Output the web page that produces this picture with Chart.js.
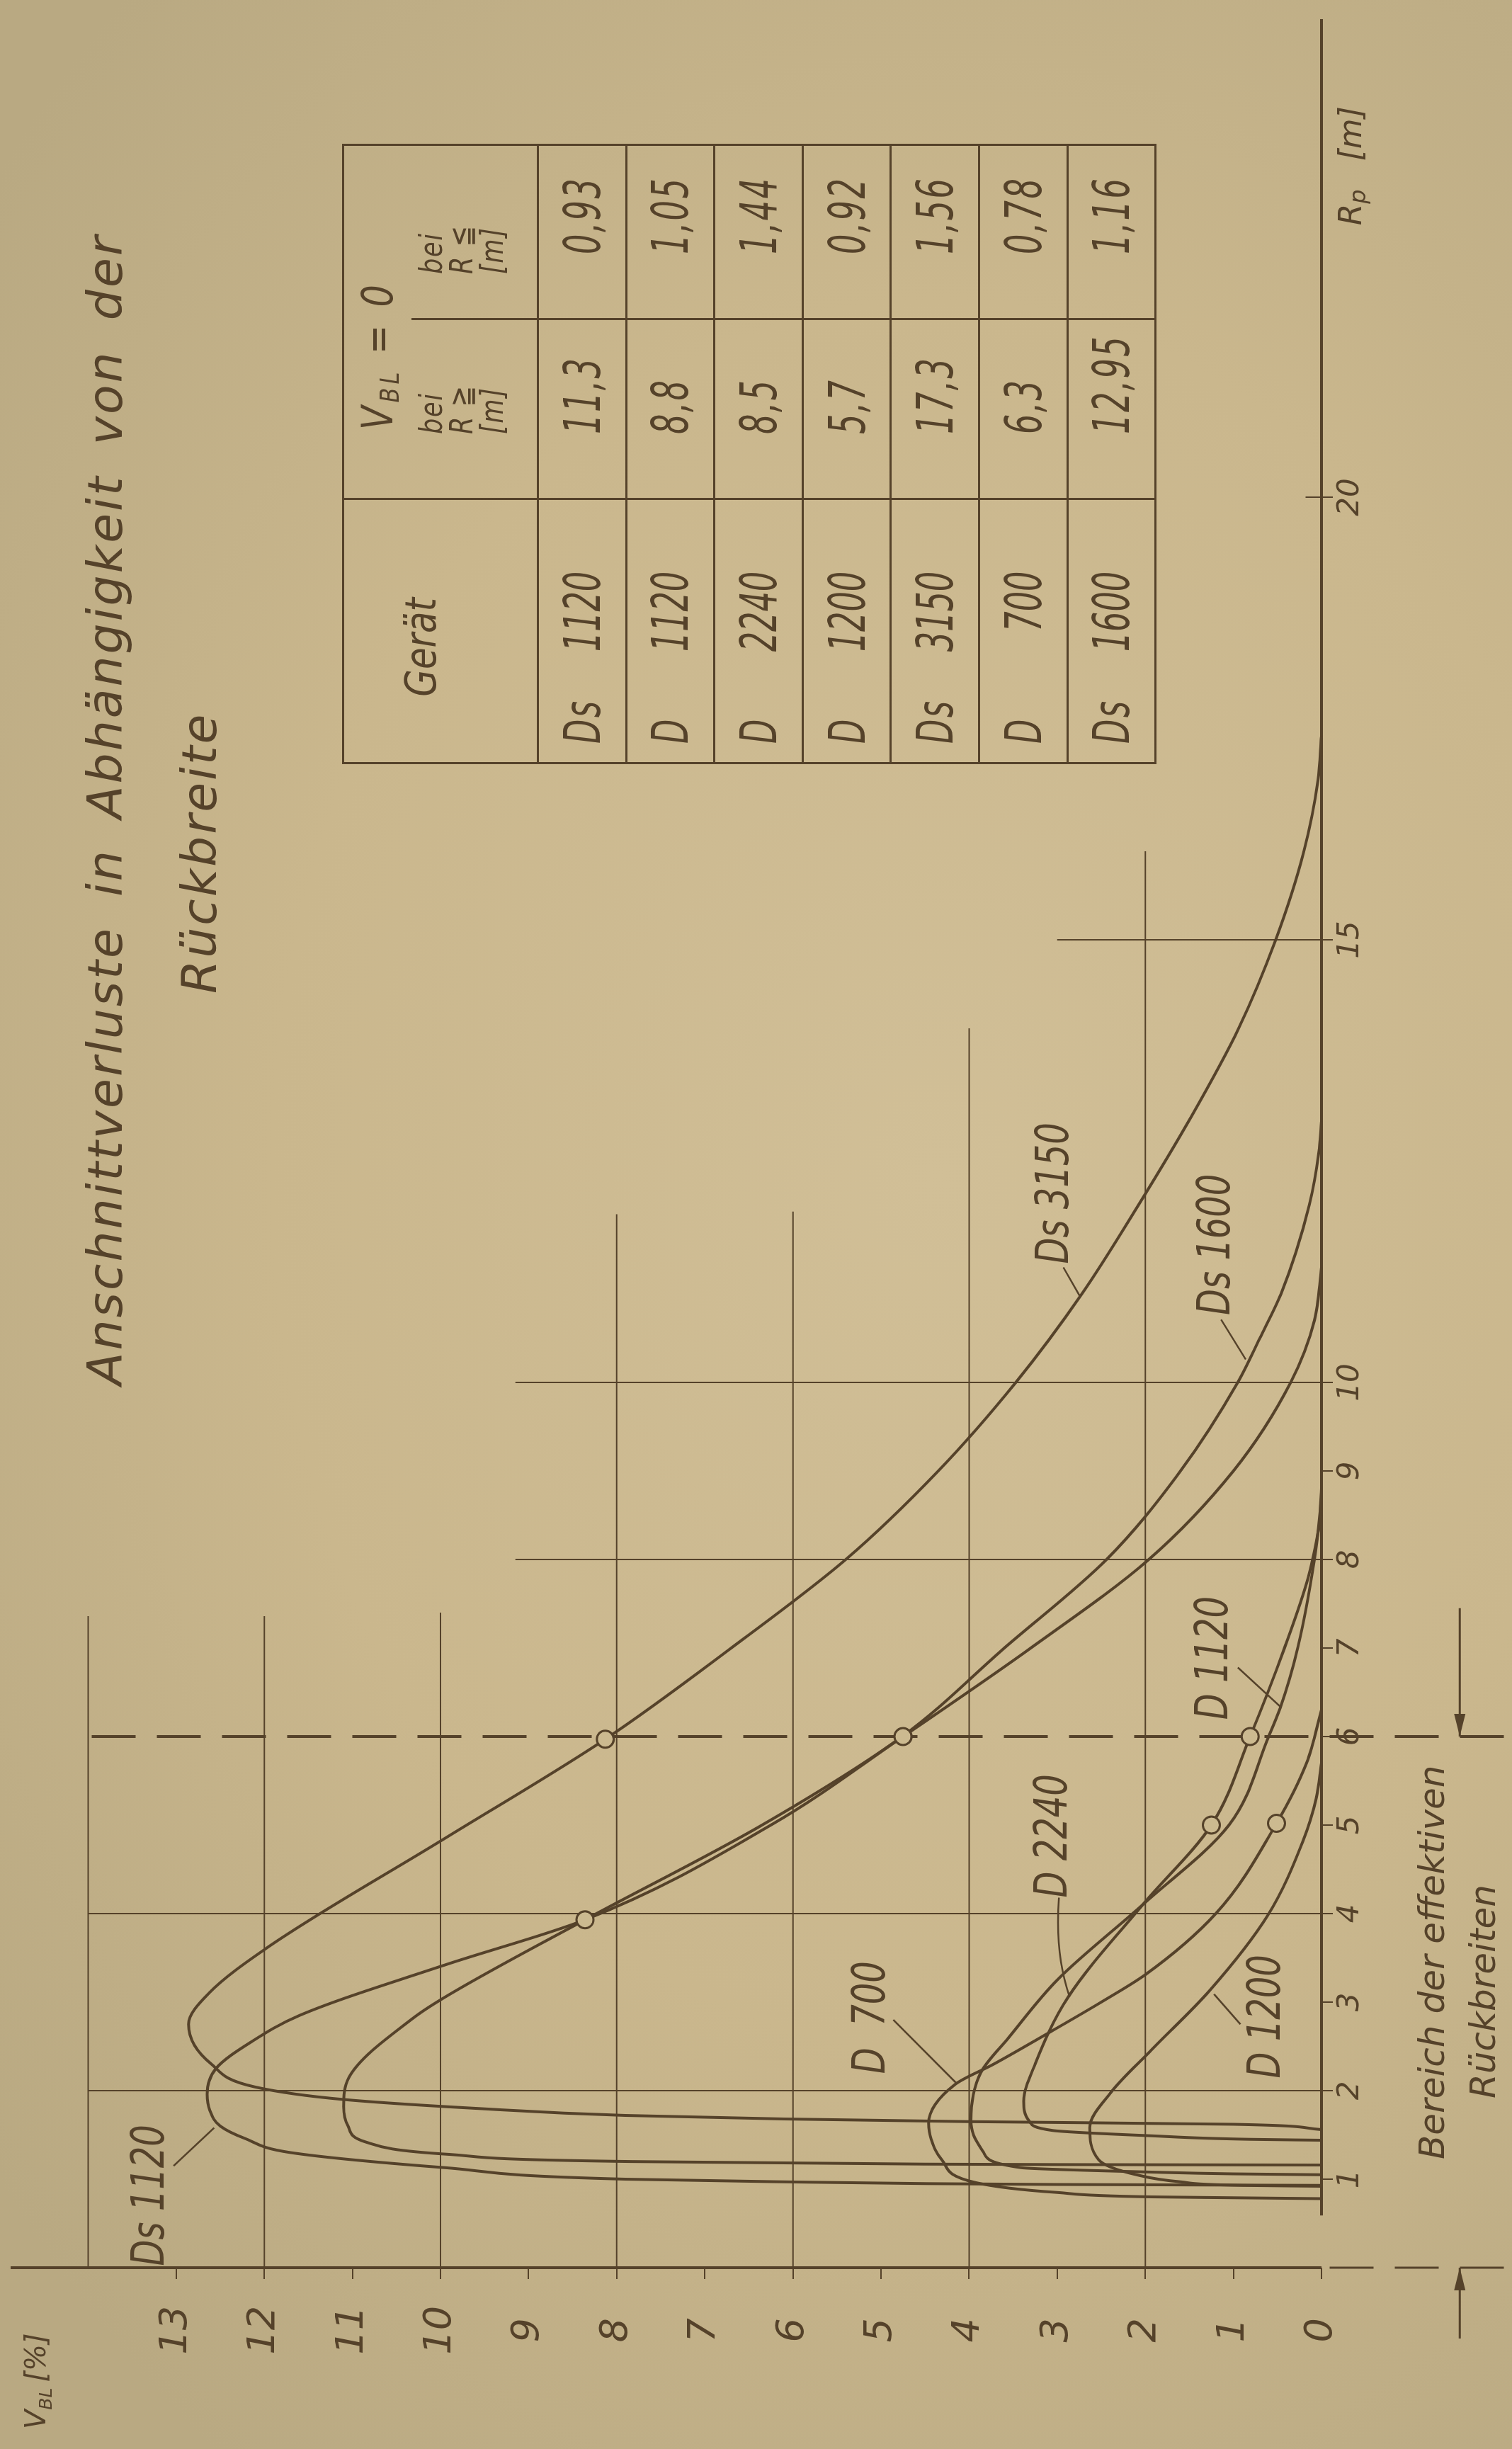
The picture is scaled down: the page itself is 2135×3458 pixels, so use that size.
<!DOCTYPE html>
<html>
<head>
<meta charset="utf-8">
<script src="https://cdn.jsdelivr.net/npm/chart.js"></script>
<style>
html,body{margin:0;padding:0;}
body{width:2135px;height:3458px;overflow:hidden;position:relative;
  background:radial-gradient(ellipse 80% 65% at 62% 48%, #d1bf97 0%, #cab78d 55%, #b9a982 100%);
  font-family:'DejaVu Sans',sans-serif;font-style:italic;color:#55422a;}
#sheet{position:absolute;left:0;top:0;width:3458px;height:2135px;transform-origin:0 0;
  transform:translate(0,3458px) rotate(-90deg);}
#chart{position:absolute;left:0;top:0;}
.title{position:absolute;white-space:pre;font-size:68px;line-height:68px;letter-spacing:3px;}
#tbl{position:absolute;left:2379px;top:483px;width:873px;border-collapse:collapse;table-layout:fixed;}
#tbl td{border:3px solid #55422a;padding:0;font-size:72px;line-height:72px;white-space:pre;}
#tbl td.hdr{text-align:center;vertical-align:top;padding-top:72px;padding-right:46px;font-size:60px;}
#tbl td.vbl{border-bottom:none;vertical-align:middle;padding-left:96px;font-size:60px;}
#tbl td.sub{border-top:none;vertical-align:top;padding-top:6px;font-size:44px;line-height:43px;}
#tbl td.sub1{padding-left:90px;}
#tbl td.sub2{padding-left:62px;}
#tbl td.dev{padding-left:26px;vertical-align:middle;}
#tbl td.val{padding-left:90px;vertical-align:middle;}
.cx{display:inline-block;transform:scaleX(0.62);transform-origin:left center;letter-spacing:4px;}
.cx.r{transform-origin:right center;letter-spacing:0;word-spacing:0;}
.cx.c{transform-origin:center center;transform:scaleX(0.83);letter-spacing:0;}
.cx.h{transform:scaleX(0.82);letter-spacing:6px;}
.cx.s{transform:scaleX(0.8);letter-spacing:2px;}
.pre{display:inline-block;width:33px;}
.num{display:inline-block;width:210px;text-align:right;}
sub{font-size:62%;vertical-align:-0.25em;line-height:0;}
</style>
</head>
<body>
<div id="sheet">
  <canvas id="chart" width="3458" height="2135"></canvas>
  <div class="title" id="t1" style="left:1502px;top:115px;">Anschnittverluste in Abhängigkeit von der</div>
  <div class="title" id="t2" style="left:2055px;top:248px;">Rückbreite</div>
  <table id="tbl"></table>
</div>
<script>
// ---------------- data ----------------
const rpTicks  = [1, 2, 3, 4, 5, 6, 7, 8, 9, 10, 15, 20];
const vblTicks = [0, 1, 2, 3, 4, 5, 6, 7, 8, 9, 10, 11, 12, 13];

const devices   = ['Ds 1120', 'D 1120', 'D 2240', 'D 1200', 'Ds 3150', 'D 700', 'Ds 1600'];
const rMaxZero  = [11.3, 8.8, 8.5, 5.7, 17.3, 6.3, 12.95];   // V_BL = 0 bei R >=
const rMinZero  = [0.93, 1.05, 1.44, 0.92, 1.56, 0.78, 1.16]; // V_BL = 0 bei R <=

const ds1120Rp = [0.93, 0.94, 0.95, 0.97, 1.00, 1.13, 1.30, 1.46, 1.60, 1.78, 1.96, 2.25, 2.55, 2.85, 3.42, 3.93, 5.00, 6.00, 7.00, 8.00, 9.00, 10.0, 10.7, 11.3];
const ds1120V  = [0, 3.0, 4.5, 6.1, 7.9, 9.95, 11.7, 12.22, 12.5, 12.62, 12.65, 12.55, 12.15, 11.6, 9.95, 8.36, 6.25, 4.75, 3.3, 1.96, 1.0, 0.35, 0.08, 0];

const ds1600Rp = [1.16, 1.165, 1.17, 1.20, 1.28, 1.42, 1.60, 1.82, 2.15, 2.82, 3.05, 3.93, 5.00, 6.00, 7.00, 8.00, 9.00, 10.0, 10.5, 11.0, 12.0, 12.6, 12.95];
const ds1600V  = [0, 3.0, 4.5, 7.9, 9.9, 10.85, 11.05, 11.1, 11.04, 10.31, 9.96, 8.36, 6.35, 4.76, 3.6, 2.44, 1.6, 0.95, 0.7, 0.46, 0.14, 0.03, 0];

const ds3150Rp = [1.56, 1.62, 1.65, 1.68, 1.72, 1.80, 1.90, 2.04, 2.30, 2.75, 3.10, 3.62, 4.85, 5.97, 7.00, 8.00, 9.00, 10.0, 11.0, 12.0, 13.0, 14.0, 15.0, 16.0, 16.8, 17.3];
const ds3150V  = [0, 1.0, 4.0, 6.1, 7.9, 9.6, 11.1, 12.1, 12.6, 12.86, 12.63, 11.96, 9.95, 8.13, 6.7, 5.4, 4.35, 3.47, 2.72, 2.08, 1.48, 0.94, 0.52, 0.2, 0.04, 0];

const d700Rp  = [0.78, 0.79, 0.80, 0.85, 0.96, 1.22, 1.45, 1.63, 2.07, 2.30, 2.64, 3.00, 3.31, 4.00, 5.02, 5.70, 6.30];
const d700V   = [0, 1.0, 1.93, 3.0, 3.92, 4.31, 4.43, 4.46, 4.16, 3.72, 3.12, 2.5, 2.0, 1.2, 0.51, 0.17, 0];

const d1120Rp = [1.05, 1.06, 1.08, 1.13, 1.31, 1.50, 1.66, 2.20, 2.60, 3.26, 4.10, 5.00, 6.00, 6.32, 7.00, 8.00, 8.50, 8.80];
const d1120V  = [0, 1.0, 1.93, 3.41, 3.84, 3.95, 3.98, 3.87, 3.55, 2.99, 2.03, 1.05, 0.6, 0.47, 0.27, 0.08, 0.02, 0];

const d2240Rp = [1.44, 1.45, 1.49, 1.55, 1.66, 1.88, 2.30, 3.05, 4.10, 5.00, 6.00, 7.00, 7.80, 8.50];
const d2240V  = [0, 0.8, 1.93, 3.05, 3.32, 3.38, 3.25, 2.88, 2.03, 1.25, 0.81, 0.42, 0.15, 0];

const d1200Rp = [0.92, 0.93, 0.97, 1.05, 1.22, 1.58, 1.98, 2.46, 3.13, 3.98, 4.82, 5.30, 5.70];
const d1200V  = [0, 0.9, 1.6, 2.1, 2.53, 2.63, 2.39, 1.93, 1.27, 0.61, 0.21, 0.06, 0];

const markerRp = [3.93, 5.97, 6.00, 5.00, 6.00, 5.02];
const markerV  = [8.36, 8.13, 4.75, 1.25, 0.81, 0.51];

// grid segments (value space)
const gridAtRp     = [2, 4, 8, 10, 15, 20];
const gridAtRpTopV = [14, 14, 9.15, 9.15, 3.0, 0.18];
const gridAtV      = [14, 12, 10, 8, 6, 4, 2];
const gridAtVEndRp = [7.36, 7.36, 7.4, 11.9, 11.93, 14.0, 16.0];
const effRange     = [0, 6];          // Bereich der effektiven Rückbreiten
const rpAxisRange  = [0.59, 25.4];
const vAxisTop     = 14.88;
const extBottomV   = -2.07;

// curve labels (text left edge / centre, leader from -> to), value space
const curveLabels = [
  {text: 'Ds 1120', rp: 0.02,  v: 13.28, leader: [[1.15, 13.03], [1.58, 12.57]]},
  {text: 'Ds 3150', rp: 11.34, v: 3.01,  leader: [[11.30, 2.93], [10.97, 2.74]]},
  {text: 'Ds 1600', rp: 10.76, v: 1.18,  leader: [[10.71, 1.14], [10.26, 0.86]]},
  {text: 'D 1120',  rp: 6.19,  v: 1.20,  leader: [[6.78, 0.95], [6.33, 0.46]]},
  {text: 'D 2240',  rp: 4.18,  v: 3.03,  leader: [[4.18, 2.98], [3.55, 3.03], [3.06, 2.86]]},
  {text: 'D  700',  rp: 2.19,  v: 5.09,  leader: [[2.80, 4.86], [2.09, 4.15]]},
  {text: 'D 1200',  rp: 2.14,  v: 0.61,  leader: [[2.75, 0.92], [3.09, 1.22]]}
];

// ---------------- styling ----------------
const INK = '#55422a';
const PAPER = '#ccba90';
const FONT = "'DejaVu Sans', sans-serif";

const pts = (xs, ys) => xs.map((x, i) => ({x: x, y: ys[i]}));
const seg = (data, w, dash) => ({
  data: data, borderColor: INK, borderWidth: w, borderDash: dash || [],
  pointRadius: 0, tension: 0, clip: false, order: 3
});

const datasets = [];
datasets.push({
  data: pts(markerRp, markerV), showLine: false, pointRadius: 12, pointHoverRadius: 12,
  pointBackgroundColor: PAPER, pointBorderColor: INK, pointBorderWidth: 3, order: 0
});
[[ds1120Rp, ds1120V], [ds1600Rp, ds1600V], [ds3150Rp, ds3150V],
 [d700Rp, d700V], [d1120Rp, d1120V], [d2240Rp, d2240V], [d1200Rp, d1200V]].forEach(c => {
  datasets.push({
    data: pts(c[0], c[1]), borderColor: INK, borderWidth: 4, pointRadius: 0,
    cubicInterpolationMode: 'monotone', order: 1, clip: false
  });
});
gridAtRp.forEach((rp, i) => datasets.push(seg([{x: rp, y: 0}, {x: rp, y: gridAtRpTopV[i]}], 2)));
gridAtV.forEach((v, i) => datasets.push(seg([{x: 0, y: v}, {x: gridAtVEndRp[i], y: v}], 2)));
datasets.push(seg([{x: effRange[1], y: extBottomV}, {x: effRange[1], y: 14}], 4, [62, 30]));
datasets.push(seg([{x: effRange[0], y: extBottomV}, {x: effRange[0], y: 0}], 3, [62, 30]));
datasets.push(seg([{x: rpAxisRange[0], y: 0}, {x: rpAxisRange[1], y: 0}], 4));
datasets.push(seg([{x: 0, y: 0}, {x: 0, y: vAxisTop}], 4));

function drawArrow(ctx, x0, y0, x1, y1) {
  ctx.beginPath(); ctx.moveTo(x0, y0); ctx.lineTo(x1, y1); ctx.stroke();
  const dir = Math.sign(x1 - x0);
  ctx.beginPath();
  ctx.moveTo(x1, y1); ctx.lineTo(x1 - dir * 32, y1 - 8); ctx.lineTo(x1 - dir * 32, y1 + 8);
  ctx.closePath(); ctx.fill();
}
function narrowText(ctx, text, x, y, sx) {
  ctx.save(); ctx.translate(x, y); ctx.scale(sx, 1); ctx.fillText(text, 0, 0); ctx.restore();
}

const annotate = {
  id: 'annotate',
  afterDraw(chart) {
    const ctx = chart.ctx, xs = chart.scales.x, ys = chart.scales.y;
    const X = v => xs.getPixelForValue(v), Y = v => ys.getPixelForValue(v);
    ctx.save();
    ctx.fillStyle = INK; ctx.strokeStyle = INK; ctx.lineWidth = 2.5;
    ctx.font = 'italic 64px ' + FONT;
    ctx.textBaseline = 'middle'; ctx.textAlign = 'left';
    curveLabels.forEach(l => {
      narrowText(ctx, l.text, X(l.rp), Y(l.v), 0.75);
      const p = l.leader;
      ctx.beginPath();
      ctx.moveTo(X(p[0][0]), Y(p[0][1]));
      if (p.length === 3) ctx.quadraticCurveTo(X(p[1][0]), Y(p[1][1]), X(p[2][0]), Y(p[2][1]));
      else ctx.lineTo(X(p[1][0]), Y(p[1][1]));
      ctx.stroke();
    });
    // axis titles
    ctx.textBaseline = 'alphabetic';
    let x0 = 28, b0 = 64;
    ctx.font = 'italic 40px ' + FONT; ctx.fillText('V', x0, b0); x0 += ctx.measureText('V').width;
    ctx.font = 'italic 25px ' + FONT; ctx.fillText('BL', x0, b0 + 9); x0 += ctx.measureText('BL').width + 8;
    ctx.font = 'italic 40px ' + FONT; ctx.fillText('[%]', x0, b0);
    let x1 = X(23.07), b1 = Y(-0.45);
    ctx.font = 'italic 44px ' + FONT; ctx.fillText('R', x1, b1); x1 += ctx.measureText('R').width;
    ctx.font = 'italic 32px ' + FONT; ctx.fillText('p', x1, b1 + 6); x1 += ctx.measureText('p').width + 40;
    ctx.font = 'italic 44px ' + FONT; ctx.fillText('[m]', x1, b1);
    // Bereich der effektiven Rückbreiten
    ctx.textAlign = 'center';
    ctx.font = 'italic 50px ' + FONT;
    ctx.fillText('Bereich der effektiven', X(3.45), Y(-1.39));
    ctx.fillText('Rückbreiten', X(3.12), Y(-1.97));
    ctx.lineWidth = 3;
    drawArrow(ctx, X(-0.8), Y(-1.57), X(effRange[0]), Y(-1.57));
    drawArrow(ctx, X(7.45), Y(-1.57), X(effRange[1]), Y(-1.57));
    ctx.restore();
  }
};

Chart.defaults.font.family = FONT;
Chart.defaults.font.style = 'italic';
Chart.defaults.color = INK;

new Chart(document.getElementById('chart'), {
  type: 'line',
  data: {datasets: datasets},
  options: {
    responsive: false, animation: false, devicePixelRatio: 1,
    layout: {padding: {left: 0, right: 27, top: 0, bottom: 0}},
    plugins: {legend: {display: false}, tooltip: {enabled: false}},
    elements: {line: {fill: false}},
    scales: {
      x: {
        type: 'linear', min: 0, max: 25.4,
        afterBuildTicks: s => { s.ticks = rpTicks.map(v => ({value: v})); },
        ticks: {font: {size: 42}, color: INK, padding: 0, maxRotation: 0, autoSkip: false},
        grid: {display: true, drawOnChartArea: false, drawTicks: true, tickLength: 16, color: INK, lineWidth: 2},
        border: {display: false},
        afterFit: s => { s.height = 269; s.paddingLeft = 0; s.paddingRight = 0; }
      },
      y: {
        type: 'linear', min: 0, max: vAxisTop,
        afterBuildTicks: s => { s.ticks = vblTicks.map(v => ({value: v})); },
        ticks: {font: {size: 54}, color: INK, padding: 38, crossAlign: 'center', autoSkip: false},
        grid: {display: true, drawOnChartArea: false, drawTicks: true, tickLength: 16, color: INK, lineWidth: 2},
        border: {display: false},
        afterFit: s => { s.width = 256; s.paddingTop = 0; s.paddingBottom = 0; }
      }
    }
  },
  plugins: [annotate]
});

// ---------------- table ----------------
const fmt = v => String(v).replace('.', ',');
let html = '<colgroup><col style="width:373px"><col style="width:254px"><col style="width:246px"></colgroup>';
html += '<tr style="height:96px"><td rowspan="2" class="hdr"><span class="cx c">Gerät</span></td>' +
        '<td colspan="2" class="vbl"><span class="cx h">V<sub>BL</sub> = 0</span></td></tr>';
html += '<tr style="height:179px"><td class="sub sub1"><span class="cx s">bei\nR ≧\n[m]</span></td>' +
        '<td class="sub sub2"><span class="cx s">bei\nR ≦\n[m]</span></td></tr>';
devices.forEach((d, i) => {
  const parts = d.split(' ');
  html += '<tr style="height:124.6px"><td class="dev"><span class="pre"><span class="cx">' + parts[0] +
          '</span></span><span class="num"><span class="cx r">' + parts[1] + '</span></span></td>' +
          '<td class="val"><span class="cx">' + fmt(rMaxZero[i]) + '</span></td>' +
          '<td class="val"><span class="cx">' + fmt(rMinZero[i]) + '</span></td></tr>';
});
document.getElementById('tbl').innerHTML = html;

// fit title line 1 to its drawn length
const t1 = document.getElementById('t1');
const target = 1626;
const spaces = (t1.textContent.match(/ /g) || []).length;
const extra = (target - t1.offsetWidth) / spaces;
t1.style.wordSpacing = extra + 'px';
</script>
</body>
</html>
